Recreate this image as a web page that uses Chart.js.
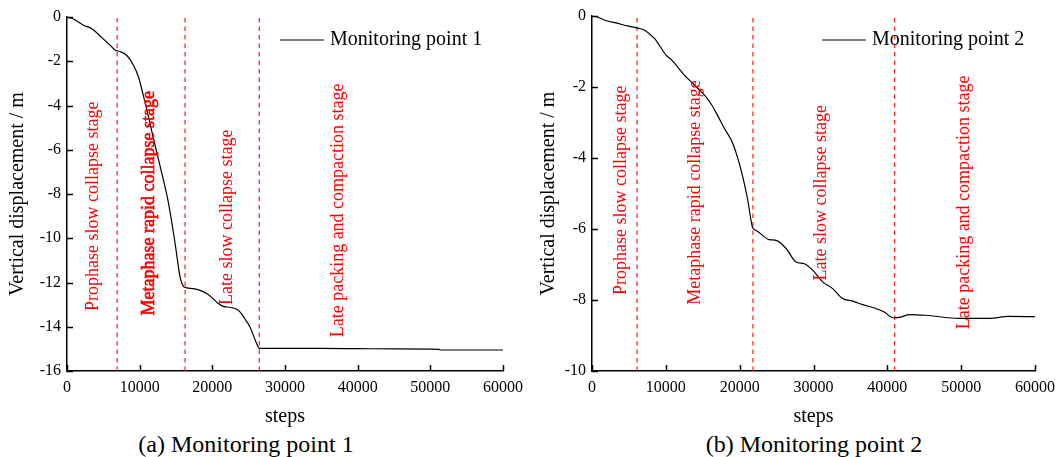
<!DOCTYPE html>
<html>
<head>
<meta charset="utf-8">
<script src="https://cdn.jsdelivr.net/npm/chart.js@4.4.1/dist/chart.umd.min.js"></script>
<style>
  html, body { margin: 0; padding: 0; background: #fff; }
  body { width: 1062px; height: 457px; position: relative; overflow: hidden; font-family: "Liberation Serif", serif; }
  canvas { position: absolute; top: 0; }
  .caption { position: absolute; top: 430px; font-size: 24px; line-height: 28px; text-align: center; color: #000; white-space: nowrap; }
</style>
</head>
<body>
<canvas id="chart1" width="530" height="430" style="left:0"></canvas>
<canvas id="chart2" width="532" height="430" style="left:530px"></canvas>
<div class="caption" style="left:0;width:492px">(a) Monitoring point 1</div>
<div class="caption" style="left:530px;width:568px">(b) Monitoring point 2</div>
<script>
// monitoring point 1
var steps1 = [0, 800, 2280, 3430, 4800, 5950, 6630, 7320, 8240, 9150, 9840, 10440, 11000, 11900,
  12820, 13960, 14880, 15560, 16020, 16500, 17390, 18500, 19230, 20000, 20830, 21500, 22430,
  23300, 23800, 24500, 25180, 26100, 26460, 30000, 35000, 40000, 45000, 51200, 51400, 60000];
var disp1 = [0, -0.08, -0.37, -0.53, -0.93, -1.28, -1.50, -1.56, -1.74, -2.18, -2.71, -3.46, -4.2, -5.5,
  -6.75, -8.4, -10.24, -11.75, -12.17, -12.24, -12.28, -12.38, -12.5, -12.7, -12.95, -13.08, -13.12,
  -13.2, -13.33, -13.65, -14.01, -14.76, -14.98, -14.98, -14.98, -14.99, -15.0, -15.02, -15.05, -15.05];
var stages1 = [6900, 16250, 26460];

// monitoring point 2
var steps2 = [0, 650, 1720, 3520, 4870, 6220, 7130, 8480, 10060, 10740, 12540, 13660, 15240, 16200,
  17000, 17940, 19070, 20200, 21100, 21750, 22230, 24030, 24940, 26290, 27640, 28760, 29890,
  31240, 32590, 33940, 35290, 36650, 38460, 39580, 40800, 41840, 42960, 45220, 49720, 53780,
  56480, 60000];
var disp2 = [0, -0.02, -0.12, -0.21, -0.28, -0.34, -0.40, -0.64, -1.11, -1.23, -1.67, -1.90, -2.23, -2.5,
  -2.8, -3.17, -3.59, -4.35, -5.19, -5.96, -6.04, -6.30, -6.32, -6.55, -6.93, -6.98, -7.16,
  -7.49, -7.68, -7.96, -8.03, -8.13, -8.24, -8.34, -8.50, -8.48, -8.41, -8.43, -8.52, -8.52,
  -8.46, -8.47];
var stages2 = [6100, 21800, 41000];

// stage names, with where their centres sit (steps, displacement)
var stageNames = ['Prophase slow collapse stage', 'Metaphase rapid collapse stage',
  'Late slow collapse stage', 'Late packing and compaction stage'];
var nameSteps1 = [3600, 11300, 22030, 37280];
var nameDisp1 = [-8.55, -8.42, -9.05, -8.74];
var nameSteps2 = [3900, 14010, 31050, 50430];
var nameDisp2 = [-4.91, -4.97, -4.98, -5.25];

var xTicks = [0, 60000, 10000];   // min, max, step

Chart.defaults.font.family = '"Liberation Serif", "Times New Roman", serif';
Chart.defaults.color = '#000';

function makeChart(id, o) {
    var curve = o.steps.map(function(s, i) { return {x: s, y: o.disp[i]}; });
    var datasets = o.stages.map(function(s) {
        return {
            label: '',
            data: [{x: s, y: o.yMin}, {x: s, y: o.yMax}],
            borderColor: '#ff1a1a',
            borderWidth: 1.2,
            borderDash: [4.5, 4],
            pointRadius: 0,
            order: 2
        };
    });
    datasets.push({
        label: o.label,
        data: curve,
        borderColor: '#000',
        borderWidth: 1.2,
        pointRadius: 0,
        cubicInterpolationMode: 'monotone',
        order: 1
    });

    var tickMarks = {
        id: 'tickMarks',
        afterDraw: function(chart) {
            var ctx = chart.ctx, xs = chart.scales.x, ys = chart.scales.y;
            ctx.save();
            ctx.strokeStyle = '#000';
            ctx.lineWidth = 1.5;
            xs.ticks.forEach(function(t) {
                var px = Math.round(xs.getPixelForValue(t.value)) + 0.5;
                ctx.beginPath(); ctx.moveTo(px, xs.top); ctx.lineTo(px, xs.top - 6); ctx.stroke();
            });
            ys.ticks.forEach(function(t) {
                var py = Math.round(ys.getPixelForValue(t.value)) + 0.5;
                ctx.beginPath(); ctx.moveTo(ys.right, py); ctx.lineTo(ys.right + 6, py); ctx.stroke();
            });
            ctx.restore();
        }
    };

    var stageText = {
        id: 'stageText',
        afterDatasetsDraw: function(chart) {
            var ctx = chart.ctx, xs = chart.scales.x, ys = chart.scales.y;
            stageNames.forEach(function(name, i) {
                var px = xs.getPixelForValue(o.nameSteps[i]);
                var py = ys.getPixelForValue(o.nameDisp[i]);
                ctx.save();
                ctx.translate(px, py);
                ctx.rotate(-Math.PI / 2);
                ctx.font = '18px "Liberation Serif", serif';
                ctx.fillStyle = '#f00';
                ctx.textAlign = 'center';
                ctx.textBaseline = 'middle';
                ctx.fillText(name, 0, 0);
                if (o.boldName === i) {
                    ctx.strokeStyle = '#f00';
                    ctx.lineWidth = 0.7;
                    ctx.strokeText(name, 0, 0);
                }
                ctx.restore();
            });
        }
    };

    var legendLine = {
        id: 'legendLine',
        afterDraw: function(chart) {
            var ctx = chart.ctx;
            var ds = chart.data.datasets[chart.data.datasets.length - 1];
            ctx.save();
            ctx.strokeStyle = ds.borderColor;
            ctx.lineWidth = 1.2;
            ctx.beginPath();
            ctx.moveTo(o.legendAt[0], o.legendAt[1]);
            ctx.lineTo(o.legendAt[0] + 44, o.legendAt[1]);
            ctx.stroke();
            ctx.font = '20px "Liberation Serif", serif';
            ctx.fillStyle = '#000';
            ctx.textBaseline = 'middle';
            ctx.fillText(ds.label, o.legendAt[0] + 50, o.legendAt[1]);
            ctx.restore();
        }
    };

    return new Chart(document.getElementById(id), {
        type: 'line',
        data: {datasets: datasets},
        plugins: [tickMarks, stageText, legendLine],
        options: {
            responsive: false,
            animation: false,
            layout: {padding: {left: 0, right: o.padRight, top: o.padTop, bottom: 0}},
            plugins: {legend: {display: false}, tooltip: {enabled: false}},
            scales: {
                x: {
                    type: 'linear',
                    min: xTicks[0],
                    max: xTicks[1],
                    afterFit: function(s) { s.height = 59; },
                    ticks: {
                        stepSize: xTicks[2],
                        maxRotation: 0,
                        padding: 7,
                        font: {size: 16},
                        callback: function(v) { return String(v); }
                    },
                    grid: {display: false, drawTicks: false},
                    border: {display: true, color: '#000', width: 1.5},
                    title: {display: true, text: 'steps', font: {size: 20}, padding: {top: 0, bottom: 1}}
                },
                y: {
                    type: 'linear',
                    min: o.yMin,
                    max: o.yMax,
                    afterFit: function(s) { s.width = o.yWidth; },
                    ticks: {
                        stepSize: 2,
                        padding: 6,
                        font: {size: 16},
                        callback: function(v) { return String(v); }
                    },
                    grid: {display: false, drawTicks: false},
                    border: {display: true, color: '#000', width: 1.5},
                    title: {display: true, text: 'Vertical displacement / m', font: {size: 20}, padding: {top: o.titlePad, bottom: 0}}
                }
            }
        }
    });
}

makeChart('chart1', {
    steps: steps1, disp: disp1, stages: stages1,
    nameSteps: nameSteps1, nameDisp: nameDisp1, boldName: 1,
    label: 'Monitoring point 1',
    yMin: -16, yMax: 0,
    yWidth: 67, padTop: 17, padRight: 27, titlePad: 6,
    legendAt: [280, 40]
});

makeChart('chart2', {
    steps: steps2, disp: disp2, stages: stages2,
    nameSteps: nameSteps2, nameDisp: nameDisp2, boldName: -1,
    label: 'Monitoring point 2',
    yMin: -10, yMax: 0,
    yWidth: 62, padTop: 16, padRight: 26, titlePad: 7,
    legendAt: [292, 40]
});
</script>
</body>
</html>
